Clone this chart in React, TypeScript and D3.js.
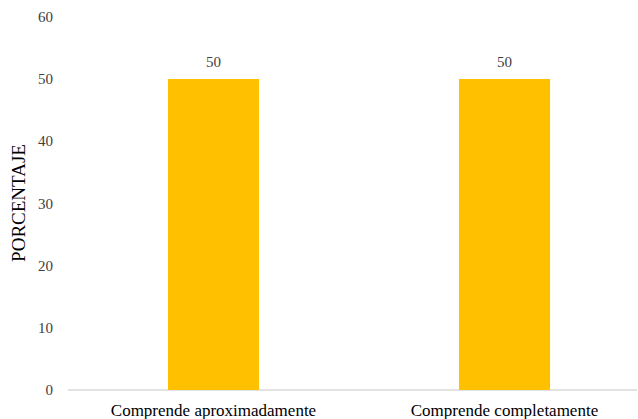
import React from "react";
import * as d3 from "d3";

const categories = ["Comprende aproximadamente", "Comprende completamente"];
const values = [50, 50];
const yTicks = [0, 10, 20, 30, 40, 50, 60];

export default function App() {
  const W = 638, H = 419;
  const x = d3.scaleBand<string>().domain(categories).range([68, 650]).padding(0);
  const y = d3.scaleLinear().domain([0, 60]).range([390, 16.8]);
  const bw = x.bandwidth() * 0.313;
  const font = "'Liberation Serif', 'Times New Roman', serif";
  return (
    <svg width={W} height={H} style={{ position: "absolute", left: 0, top: 0, background: "#fff" }}>
      {yTicks.map((t) => (
        <text key={t} x={53} y={y(t)} dy="0.35em" textAnchor="end" fontFamily={font} fontSize={15} fill="#404040">
          {t}
        </text>
      ))}
      <line x1={68} x2={637} y1={y(0)} y2={y(0)} stroke="#d9d9d9" strokeWidth={1.3} />
      {categories.map((c, i) => {
        const cx = x(c)! + x.bandwidth() / 2;
        return (
          <g key={c}>
            <rect x={cx - bw / 2} y={y(values[i])} width={bw} height={y(0) - y(values[i])} fill="#FFC000" />
            <text x={cx} y={y(values[i]) - 17} dy="0.35em" textAnchor="middle" fontFamily={font} fontSize={15} fill="#404040">
              {values[i]}
            </text>
            <text x={cx} y={416} textAnchor="middle" fontFamily={font} fontSize={17} fill="#000">
              {c}
            </text>
          </g>
        );
      })}
      <text transform={`translate(25,${203}) rotate(-90)`} textAnchor="middle" fontFamily={font} fontSize={19} fill="#000">
        PORCENTAJE
      </text>
    </svg>
  );
}
